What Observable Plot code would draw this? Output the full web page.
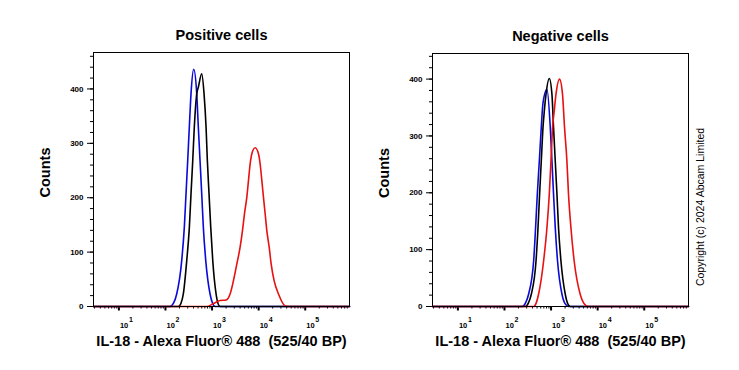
<!DOCTYPE html>
<html><head><meta charset="utf-8">
<script src="https://cdn.jsdelivr.net/npm/d3@7"></script>
<script src="https://cdn.jsdelivr.net/npm/@observablehq/plot@0.6"></script>
<style>
body{margin:0;background:#fff;}
#wrap{position:relative;width:739px;height:370px;overflow:hidden;background:#fff;}
#wrap svg{position:absolute;top:0;overflow:visible;}
</style></head><body><div id="wrap"></div>
<script>
const panelTitles = ["Positive cells", "Negative cells"];
const xLabel = "IL-18 - Alexa Fluor\u00ae 488 \u00a0(525/40 BP)";
const yLabel = "Counts";
const copyrightText = "Copyright (c) 2024 Abcam Limited";
const decadeExps = [1, 2, 3, 4, 5];
const yMajorTicks = [0, 100, 200, 300, 400];
const xDomainExp = [0.455, 5.95];

// Positive cells (x = log10 intensity, y = counts)
const posBlueLog   = [0.455, 2.097, 2.172, 2.241, 2.348, 2.404, 2.441, 2.477, 2.512, 2.548, 2.606, 2.671, 2.705, 2.742, 2.778, 2.813, 2.865, 2.957, 3.011, 3.065, 5.95];
const posBlueCount = [0, 0, 6, 23, 84, 145, 207, 268, 330, 391, 436, 391, 330, 268, 207, 145, 84, 23, 6, 0, 0];
const posBlackLog   = [0.455, 2.275, 2.333, 2.383, 2.456, 2.512, 2.548, 2.585, 2.619, 2.671, 2.705, 2.778, 2.828, 2.871, 2.899, 2.935, 2.972, 3.015, 3.086, 3.129, 3.172, 5.95];
const posBlackCount = [0, 0, 6, 23, 84, 145, 207, 268, 330, 391, 403, 428, 391, 330, 268, 207, 145, 84, 23, 5, 0, 0];
const posRedLog   = [0.455, 2.886, 3.022, 3.172, 3.301, 3.387, 3.458, 3.531, 3.602, 3.652, 3.695, 3.746, 3.781, 3.817, 3.854, 3.925, 3.996, 4.032, 4.069, 4.103, 4.140, 4.176, 4.226, 4.269, 4.333, 4.426, 4.570, 4.68, 5.95];
const posRedCount = [0, 0, 5, 11, 12, 23, 47, 78, 109, 139, 170, 201, 231, 262, 281, 292, 281, 262, 231, 201, 170, 139, 109, 78, 47, 23, 1, 0, 0];

// Negative cells
const negBlueLog   = [0.455, 2.378, 2.45, 2.519, 2.626, 2.668, 2.705, 2.748, 2.790, 2.827, 2.912, 2.983, 3.019, 3.053, 3.090, 3.139, 3.233, 3.30, 3.374, 5.95];
const negBlueCount = [0, 0, 6, 22, 80, 139, 198, 256, 315, 358, 382, 315, 256, 198, 139, 80, 22, 5, 0, 0];
const negBlackLog   = [0.455, 2.448, 2.512, 2.577, 2.677, 2.720, 2.754, 2.790, 2.827, 2.855, 2.891, 2.962, 3.019, 3.053, 3.090, 3.126, 3.160, 3.212, 3.304, 3.357, 3.411, 5.95];
const negBlackCount = [0, 0, 6, 22, 80, 139, 198, 256, 315, 344, 373, 401, 373, 315, 256, 198, 139, 80, 22, 5, 0, 0];
const negRedLog   = [0.455, 2.626, 2.68, 2.733, 2.840, 2.912, 2.962, 2.998, 3.032, 3.068, 3.105, 3.182, 3.246, 3.289, 3.340, 3.374, 3.426, 3.496, 3.624, 3.71, 3.802, 5.95];
const negRedCount = [0, 0, 6, 22, 80, 139, 198, 256, 315, 344, 373, 400, 373, 315, 256, 198, 139, 80, 22, 5, 0, 0];

const colors = {blue: "#0a0ad8", black: "#000000", red: "#e81010"};

function series(logs, counts, color) {
  return logs.map((l, i) => ({x: 10 ** l, y: counts[i], color}));
}

const minorX = [];
for (let e = 0; e <= 5; e++) for (let k = 2; k <= 9; k++) {
  const v = k * 10 ** e;
  if (Math.log10(v) > xDomainExp[0] && Math.log10(v) < xDomainExp[1]) minorX.push(v);
}

function panel({title, lines, yMax, left, width, ml, mr, mt, mb, copyright}) {
  const font = "'Liberation Sans', Arial, sans-serif";
  const marks = [
    Plot.axisY({ticks: d3.range(0, yMax, 20), tickSize: 3, tickFormat: () => "", label: null}),
    Plot.axisY({ticks: yMajorTicks, tickSize: 6, tickPadding: 4, fontSize: 8, fontWeight: "bold", label: null}),
    Plot.axisX({ticks: minorX, tickSize: 2.5, tickFormat: () => "", label: null}),
    Plot.axisX({ticks: decadeExps.map(d => 10 ** d), tickSize: 4.5, strokeWidth: 2, tickFormat: () => "", label: null}),
    Plot.text(decadeExps, {x: d => 10 ** d, frameAnchor: "bottom", text: () => "10", textAnchor: "start", dx: 1, dy: 21, fontSize: 7.5, fontWeight: "bold"}),
    Plot.text(decadeExps, {x: d => 10 ** d, frameAnchor: "bottom", text: d => String(d), textAnchor: "start", dx: 10, dy: 15, fontSize: 7, fontWeight: "bold"}),
    ...lines.map(s => Plot.line(s, {x: "x", y: "y", stroke: s[0].color, strokeWidth: 1.6, curve: "monotone-x"})),
    Plot.frame({stroke: "black", strokeWidth: 1}),
    Plot.text([title], {frameAnchor: "top", text: d => d, dy: -23, fontSize: 14.5, fontWeight: "bold"}),
    Plot.text([yLabel], {frameAnchor: "left", text: d => d, textAnchor: "middle", rotate: -90, dx: -48, dy: -7, fontSize: 14.5, fontWeight: "bold"}),
    Plot.text([xLabel], {frameAnchor: "bottom", text: d => d, dy: 39, fontSize: 14.5, fontWeight: "bold"})
  ];
  if (copyright) marks.push(Plot.text([copyrightText], {frameAnchor: "right", text: d => d, textAnchor: "middle", rotate: -90, dx: 12, dy: 27, fontSize: 10.5}));
  const svg = Plot.plot({
    width, height: 370,
    marginLeft: ml, marginRight: mr, marginTop: mt, marginBottom: mb,
    style: {fontFamily: font, background: "transparent", color: "black"},
    x: {type: "log", domain: xDomainExp.map(e => 10 ** e), label: null},
    y: {domain: [0, yMax], label: null},
    marks
  });
  svg.style.left = left + "px";
  return svg;
}

const wrap = document.getElementById("wrap");
wrap.appendChild(panel({
  title: panelTitles[0], yMax: 467, left: 0, width: 370, ml: 93, mr: 21, mt: 52, mb: 64,
  lines: [series(posBlueLog, posBlueCount, colors.blue), series(posBlackLog, posBlackCount, colors.black), series(posRedLog, posRedCount, colors.red)]
}));
wrap.appendChild(panel({
  title: panelTitles[1], yMax: 445, left: 370, width: 369, ml: 62, mr: 51, mt: 53, mb: 64, copyright: true,
  lines: [series(negBlueLog, negBlueCount, colors.blue), series(negBlackLog, negBlackCount, colors.black), series(negRedLog, negRedCount, colors.red)]
}));
</script></body></html>
